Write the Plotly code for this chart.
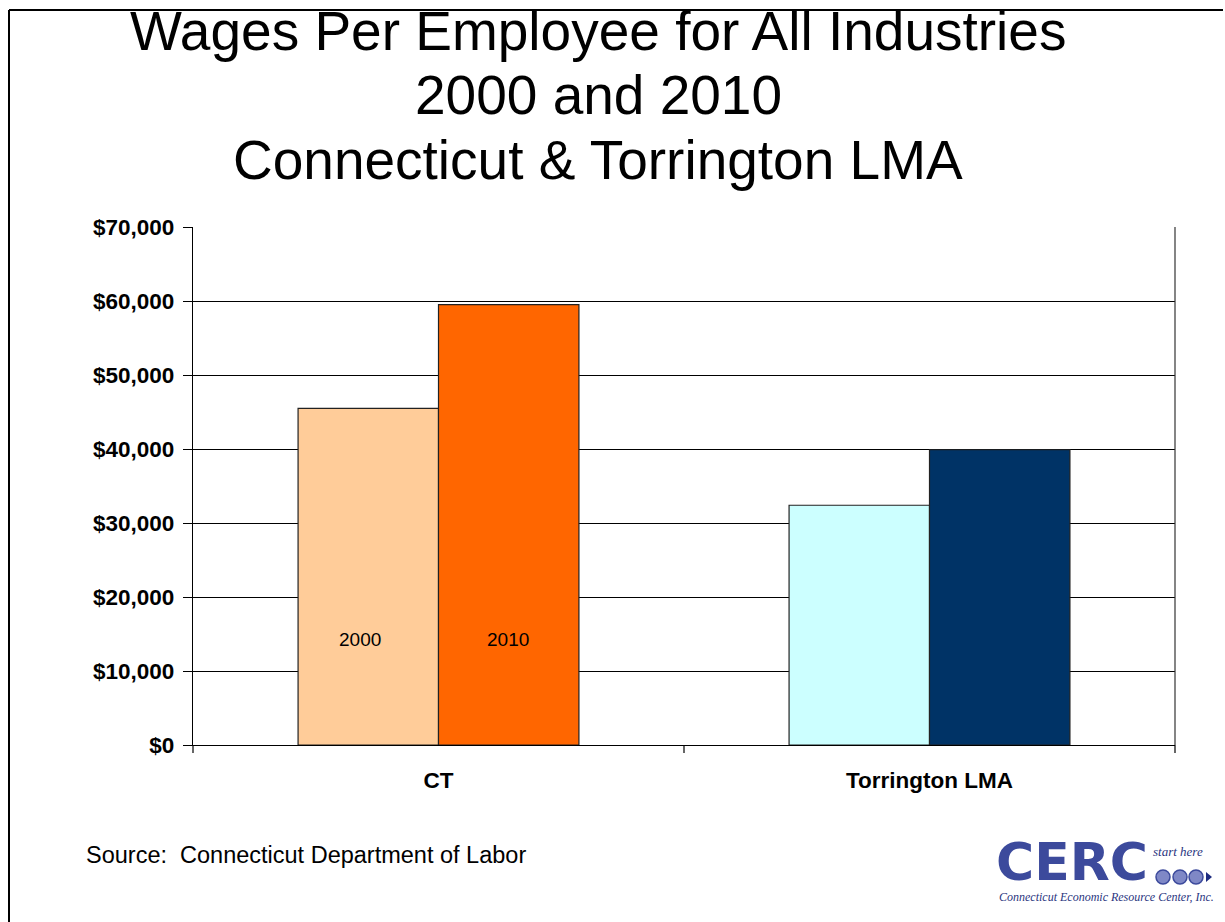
import plotly.graph_objects as go

# Chart data
categories = ["CT", "Torrington LMA"]
years = ["2000", "2010"]
wages_2000 = [45500, 32400]
wages_2010 = [59500, 39900]
colors_2000 = ["#FFCC99", "#CCFFFF"]
colors_2010 = ["#FF6600", "#003366"]
y_ticks = [0, 10000, 20000, 30000, 40000, 50000, 60000, 70000]
y_tick_labels = ["$0", "$10,000", "$20,000", "$30,000", "$40,000", "$50,000", "$60,000", "$70,000"]

W, H = 1225, 922
L, R, T, B = 193, 1175, 227, 745  # plot area in pixels


def px(x):
    return (x - L) / (R - L)


def py(y):
    return (B - y) / (B - T)


fig = go.Figure()
fig.add_trace(go.Bar(
    x=categories, y=wages_2000, name=years[0],
    marker=dict(color=colors_2000, line=dict(color="#222222", width=1.2)),
    showlegend=False,
))
fig.add_trace(go.Bar(
    x=categories, y=wages_2010, name=years[1],
    marker=dict(color=colors_2010, line=dict(color="#222222", width=1.2)),
    showlegend=False,
))

font = "Liberation Sans, Arial, sans-serif"

fig.update_layout(
    width=W, height=H,
    margin=dict(l=L, r=W - R, t=T, b=H - B),
    paper_bgcolor="white", plot_bgcolor="white",
    barmode="group", bargap=0.428, bargroupgap=0,
    font=dict(family=font, color="black"),
    xaxis=dict(
        showline=True, linecolor="black", linewidth=1.2,
        ticks="", showgrid=False,
        tickfont=dict(size=22.5, family=font, weight="bold"),
        ticklabelstandoff=15, range=[-0.5, 1.5],
    ),
    yaxis=dict(
        range=[0, 70000], tickvals=y_ticks, ticktext=y_tick_labels,
        showline=True, linecolor="black", linewidth=1.2,
        ticks="outside", ticklen=9, tickcolor="black", tickwidth=1.2,
        showgrid=True, gridcolor="black", gridwidth=1,
        tickfont=dict(size=22.5, family=font, weight="bold"),
        zeroline=False, ticklabelstandoff=4,
    ),
)


def note(x, y, text, size, family=font, color="black", xanchor="center"):
    fig.add_annotation(x=px(x), y=py(y), xref="paper", yref="paper", text=text,
                       showarrow=False, xanchor=xanchor, yanchor="middle",
                       font=dict(size=size, family=family, color=color))


# plot area right border and category tick marks on the x axis
fig.add_shape(type="line", xref="paper", yref="paper", x0=1, x1=1, y0=0, y1=1,
              line=dict(color="#333333", width=1.2))
for xp in [0, 0.5, 1]:
    fig.add_shape(type="line", xref="paper", yref="paper", x0=xp, x1=xp,
                  y0=0, y1=py(753), line=dict(color="black", width=1.2))

# outer frame (left and top edges)
fig.add_shape(type="line", xref="paper", yref="paper", x0=px(9), x1=px(9),
              y0=py(10), y1=py(925), line=dict(color="black", width=2))
fig.add_shape(type="line", xref="paper", yref="paper", x0=px(9), x1=px(1223),
              y0=py(10), y1=py(10), line=dict(color="black", width=2))

# in-bar year labels
for xc, label in zip([360, 508], years):
    fig.add_annotation(x=px(xc), y=14200, xref="paper", yref="y", text=label,
                       showarrow=False, xanchor="center", yanchor="middle",
                       font=dict(size=19, family=font))

# title
title_lines = ["Wages Per Employee for All Industries", "2000 and 2010",
               "Connecticut & Torrington LMA"]
for line, ycen in zip(title_lines, [31, 95, 160]):
    note(598, ycen, line, 55)

# source note
note(84, 855, "Source:  Connecticut Department of Labor", 23.5, xanchor="left")

# CERC logo
logo_blue = "#3C4A9C"
note(994, 862, "<b>CERC</b>", 52, family="DejaVu Sans, sans-serif",
     color=logo_blue, xanchor="left")
note(1178, 851, "<i>start here</i>", 13, family="Liberation Serif, serif", color="#2A3580")
for cx in [1163, 1180, 1196]:
    fig.add_shape(type="circle", xref="paper", yref="paper",
                  x0=px(cx - 7), x1=px(cx + 7), y0=py(884), y1=py(870),
                  fillcolor="#7F88C6", line=dict(color=logo_blue, width=1.5))
fig.add_shape(type="path", xref="paper", yref="paper",
              path=f"M {px(1206)} {py(872)} L {px(1212)} {py(877)} L {px(1206)} {py(882)} Z",
              fillcolor="#1E2C80", line=dict(width=0))
note(1106, 897, "<i>Connecticut Economic Resource Center, Inc.</i>", 12,
     family="Liberation Serif, serif", color="#2A3580")

fig.write_html("out.html")
